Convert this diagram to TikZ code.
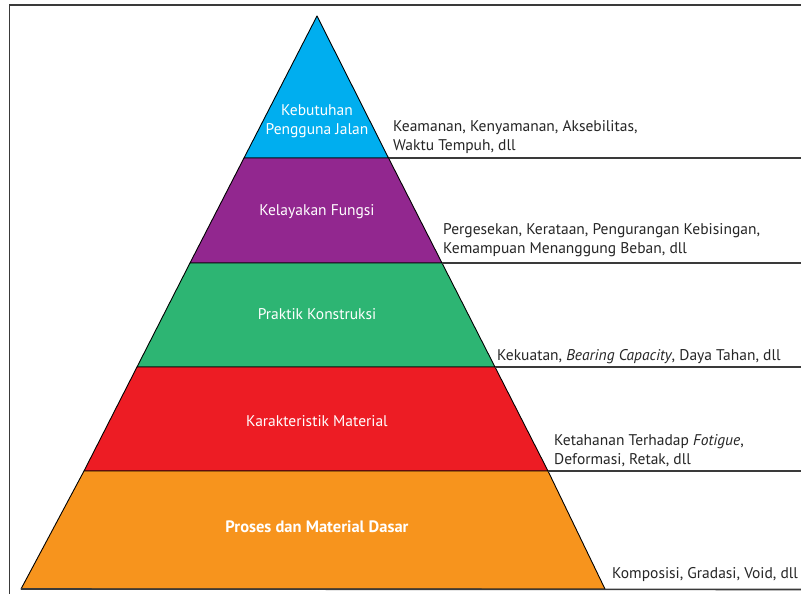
\documentclass[tikz,border=0pt]{standalone}
\usepackage{fontspec}
\setmainfont{PT Sans}
\definecolor{cyanT}{HTML}{00AEEF}
\definecolor{purpleT}{HTML}{92278F}
\definecolor{greenT}{HTML}{2DB573}
\definecolor{redT}{HTML}{ED1C24}
\definecolor{orangeT}{HTML}{F7941D}
\definecolor{lineT}{HTML}{3A3A3A}
\begin{document}
\begin{tikzpicture}[x=1pt,y=-1pt,
  tier/.style={draw=black,line width=0.9pt,line join=round},
  rule/.style={draw=lineT,line width=1.6pt},
  frame/.style={draw=lineT,line width=1.4pt},
  inlbl/.style={text=white,font=\fontsize{15.5}{19}\selectfont,align=center,inner sep=0pt},
  outlbl/.style={text=black!85,font=\fontsize{15.5}{19}\selectfont,align=left,anchor=west,inner sep=0pt}]
\useasboundingbox (0,0) rectangle (801,594);
\fill[white] (0,0) rectangle (801,594);
% frame
\draw[frame] (9.5,594) -- (9.5,5) -- (801,5);
% tier corner coordinates
\coordinate (apex) at (317,16);
\coordinate (l1) at (244,158); \coordinate (r1) at (388.5,158);
\coordinate (l2) at (190,263); \coordinate (r2) at (442,263);
\coordinate (l3) at (137,367); \coordinate (r3) at (495,367);
\coordinate (l4) at (84,471);  \coordinate (r4) at (548,471);
\coordinate (l5) at (21,589);  \coordinate (r5) at (605,589);
% tiers
\filldraw[tier,fill=cyanT] (apex) -- (r1) -- (l1) -- cycle;
\filldraw[tier,fill=purpleT] (l1) -- (r1) -- (r2) -- (l2) -- cycle;
\filldraw[tier,fill=greenT] (l2) -- (r2) -- (r3) -- (l3) -- cycle;
\filldraw[tier,fill=redT] (l3) -- (r3) -- (r4) -- (l4) -- cycle;
\filldraw[tier,fill=orangeT] (l4) -- (r4) -- (r5) -- (l5) -- cycle;
% rules to the right
\coordinate (e1) at (801,158);
\coordinate (e2) at (801,263);
\coordinate (e3) at (801,367);
\coordinate (e4) at (801,471);
\coordinate (e5) at (801,589.5);
\draw[rule] (r1) -- (e1);
\draw[rule] (r2) -- (e2);
\draw[rule] (r3) -- (e3);
\draw[rule] (r4) -- (e4);
\draw[rule] (l5) -- (e5);
% inner labels
\node[inlbl] (t1) at (317,121) {Kebutuhan\\Pengguna Jalan};
\node[inlbl] (t2) at (317,212) {Kelayakan Fungsi};
\node[inlbl] (t3) at (317,314) {Praktik Konstruksi};
\node[inlbl] (t4) at (317,421) {Karakteristik Material};
\node[inlbl,font=\fontsize{16.5}{19}\selectfont\bfseries] (t5) at (317,527) {Proses dan Material Dasar};
% outer labels
\node[outlbl] (d1) at (393,137) {Keamanan, Kenyamanan, Aksebilitas,\\Waktu Tempuh, dll};
\node[outlbl] (d2) at (443,240) {Pergesekan, Kerataan, Pengurangan Kebisingan,\\Kemampuan Menanggung Beban, dll};
\node[outlbl] (d3) at (497,357) {Kekuatan, \textit{Bearing Capacity}, Daya Tahan, dll};
\node[outlbl] (d4) at (554,451) {Ketahanan Terhadap \textit{Fotigue},\\Deformasi, Retak, dll};
\node[outlbl] (d5) at (612,575) {Komposisi, Gradasi, Void, dll};
\end{tikzpicture}
\end{document}
